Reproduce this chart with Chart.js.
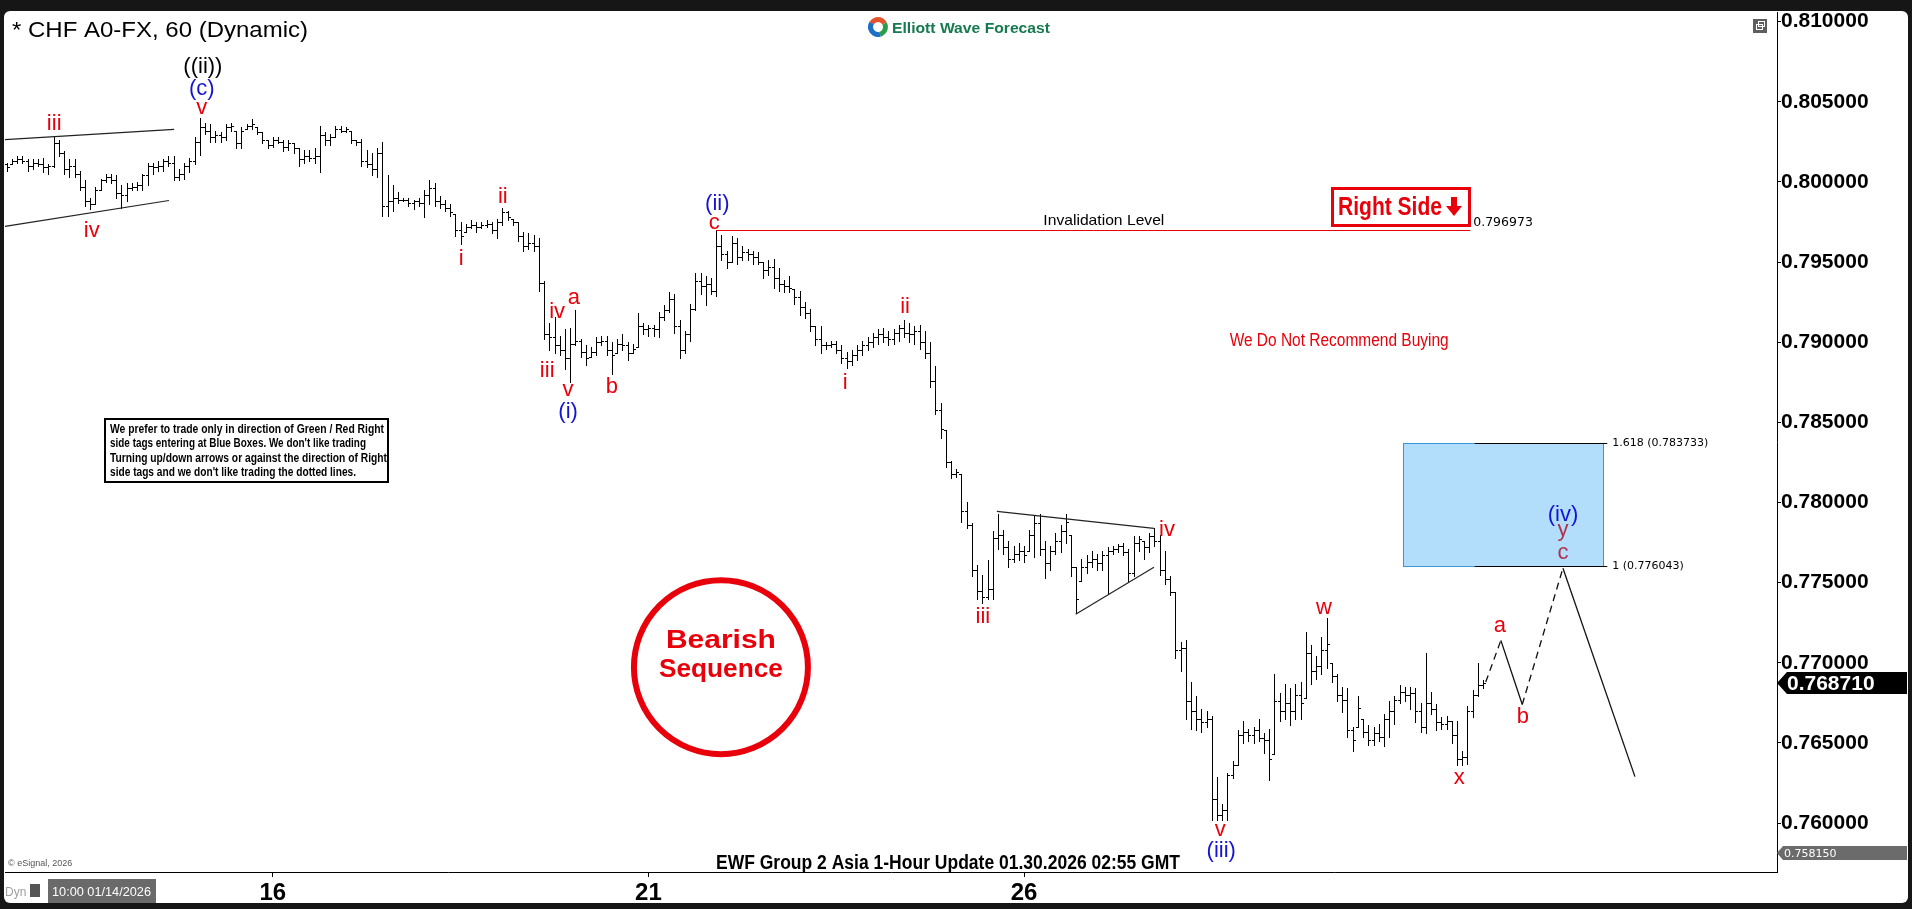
<!DOCTYPE html>
<html>
<head>
<meta charset="utf-8">
<title>CHF A0-FX 60</title>
<script src="https://cdn.jsdelivr.net/npm/chart.js@4.4.1/dist/chart.umd.min.js"></script>
<style>
  html, body { margin: 0; padding: 0; background: #161616; overflow: hidden; }
  canvas { display: block; }
</style>
</head>
<body>
<canvas id="chfChart" width="1912" height="909"></canvas>
<script>
// hourly bars, index 0 = first bar on screen (weekend hours are skipped)
var barOpen = [
  0.8011,0.8011,0.8013,0.8014,0.8013,0.8010,0.8012,0.8011,0.8009,0.8010,
  0.8024,0.8018,0.8008,0.8010,0.8005,0.7997,0.7988,0.7986,0.7995,0.8001,
  0.8003,0.8001,0.7993,0.7992,0.7996,0.7997,0.7998,0.8004,0.8010,0.8009,
  0.8010,0.8013,0.8012,0.8003,0.8005,0.8010,0.8013,0.8025,0.8034,0.8032,
  0.8028,0.8029,0.8028,0.8034,0.8032,0.8024,0.8033,0.8035,0.8034,0.8031,
  0.8026,0.8023,0.8026,0.8025,0.8022,0.8024,0.8021,0.8014,0.8016,0.8015,
  0.8016,0.8029,0.8026,0.8028,0.8033,0.8032,0.8032,0.8026,0.8025,0.8013,
  0.8011,0.8008,0.8018,0.7985,0.7988,0.7990,0.7989,0.7989,0.7987,0.7988,
  0.7987,0.7992,0.7996,0.7988,0.7986,0.7984,0.7980,0.7970,0.7969,0.7972,
  0.7973,0.7972,0.7973,0.7974,0.7970,0.7975,0.7981,0.7977,0.7975,0.7966,
  0.7960,0.7962,0.7960,0.7937,0.7905,0.7903,0.7898,0.7895,0.7890,0.7899,
  0.7901,0.7894,0.7891,0.7894,0.7900,0.7901,0.7895,0.7893,0.7899,0.7898,
  0.7893,0.7897,0.7910,0.7908,0.7909,0.7908,0.7916,0.7920,0.7927,0.7910,
  0.7895,0.7905,0.7921,0.7938,0.7935,0.7936,0.7932,0.7960,0.7955,0.7950,
  0.7962,0.7953,0.7956,0.7955,0.7953,0.7950,0.7945,0.7947,0.7940,0.7936,
  0.7935,0.7933,0.7928,0.7922,0.7918,0.7910,0.7902,0.7898,0.7898,0.7899,
  0.7895,0.7890,0.7888,0.7892,0.7895,0.7898,0.7900,0.7903,0.7905,0.7903,
  0.7902,0.7906,0.7909,0.7906,0.7905,0.7907,0.7900,0.7893,0.7876,0.7858,
  0.7845,0.7825,0.7818,0.7818,0.7795,0.7786,0.7758,0.7745,0.7741,0.7746,
  0.7778,0.7780,0.7772,0.7765,0.7768,0.7770,0.7770,0.7780,0.7787,0.7771,
  0.7762,0.7770,0.7776,0.7782,0.7780,0.7760,0.7751,0.7760,0.7763,0.7765,
  0.7762,0.7767,0.7770,0.7771,0.7773,0.7769,0.7756,0.7775,0.7776,0.7772,
  0.7779,0.7776,0.7758,0.7752,0.7744,0.7708,0.7709,0.7676,0.7670,0.7665,
  0.7663,0.7665,0.7615,0.7605,0.7608,0.7630,0.7636,0.7655,0.7657,0.7655,
  0.7658,0.7653,0.7652,0.7643,0.7676,0.7670,0.7675,0.7670,0.7680,0.7678,
  0.7706,0.7695,0.7698,0.7708,0.7700,0.7692,0.7680,0.7677,0.7658,0.7660,
  0.7665,0.7657,0.7652,0.7656,0.7654,0.7665,0.7670,0.7677,0.7682,0.7680,
  0.7681,0.7670,0.7660,0.7675,0.7671,0.7663,0.7662,0.7664,0.7655,0.7640,
  0.7641,0.7670,0.7680,0.7686
];
var barHigh = [
  0.8012,0.8014,0.8016,0.8016,0.8014,0.8014,0.8014,0.8015,0.8011,0.8028,
  0.8026,0.8019,0.8014,0.8014,0.8007,0.8001,0.7990,0.7997,0.8002,0.8005,
  0.8005,0.8004,0.7998,0.7999,0.7999,0.8000,0.8005,0.8012,0.8012,0.8013,
  0.8014,0.8016,0.8016,0.8008,0.8012,0.8015,0.8028,0.8040,0.8037,0.8036,
  0.8032,0.8031,0.8036,0.8037,0.8032,0.8034,0.8036,0.8039,0.8034,0.8031,
  0.8026,0.8028,0.8028,0.8026,0.8026,0.8024,0.8021,0.8020,0.8020,0.8021,
  0.8035,0.8031,0.8030,0.8035,0.8035,0.8034,0.8032,0.8026,0.8027,0.8020,
  0.8018,0.8021,0.8025,0.8004,0.7998,0.7994,0.7990,0.7990,0.7989,0.7990,
  0.7995,0.8001,0.7999,0.7991,0.7989,0.7986,0.7980,0.7975,0.7974,0.7976,
  0.7975,0.7975,0.7976,0.7975,0.7977,0.7984,0.7982,0.7977,0.7975,0.7969,
  0.7968,0.7967,0.7965,0.7938,0.7912,0.7916,0.7904,0.7908,0.7909,0.7920,
  0.7902,0.7898,0.7897,0.7903,0.7904,0.7904,0.7900,0.7902,0.7905,0.7900,
  0.7899,0.7918,0.7912,0.7911,0.7911,0.7919,0.7923,0.7931,0.7930,0.7914,
  0.7907,0.7924,0.7943,0.7943,0.7941,0.7940,0.79697,0.7967,0.7957,0.7966,
  0.7965,0.7960,0.7958,0.7957,0.7956,0.7950,0.7951,0.7952,0.7946,0.7939,
  0.7941,0.7933,0.7932,0.7925,0.7921,0.7910,0.7910,0.7900,0.7901,0.7901,
  0.7898,0.7894,0.7895,0.7898,0.7901,0.7903,0.7906,0.7908,0.7909,0.7907,
  0.7908,0.7911,0.7914,0.7912,0.7910,0.7911,0.7907,0.7900,0.7885,0.7862,
  0.7845,0.7826,0.7821,0.7818,0.7800,0.7787,0.7761,0.7755,0.7764,0.7782,
  0.7793,0.7783,0.7776,0.7773,0.7775,0.7773,0.7783,0.7792,0.7793,0.7776,
  0.7773,0.7781,0.7786,0.7793,0.7780,0.7760,0.7765,0.7767,0.7770,0.7768,
  0.7770,0.7772,0.7773,0.7774,0.7775,0.7771,0.7779,0.7779,0.7776,0.7781,
  0.7784,0.7780,0.7770,0.7754,0.7744,0.7713,0.7714,0.7688,0.7679,0.7671,
  0.7670,0.7667,0.7629,0.7612,0.7631,0.7639,0.7658,0.7664,0.7659,0.7660,
  0.7665,0.7656,0.7659,0.7693,0.7681,0.7687,0.7684,0.7687,0.7688,0.7719,
  0.7711,0.7704,0.7716,0.7728,0.7700,0.7693,0.7685,0.7684,0.7660,0.7679,
  0.7665,0.7661,0.7660,0.7662,0.7668,0.7676,0.7679,0.7686,0.7685,0.7685,
  0.7684,0.7675,0.7706,0.7682,0.7674,0.7666,0.7667,0.7664,0.7664,0.7645,
  0.7673,0.7683,0.7700,0.7689
];
var barLow = [
  0.8007,0.8011,0.8012,0.8012,0.8007,0.8008,0.8010,0.8006,0.8005,0.8009,
  0.8016,0.8005,0.8003,0.8003,0.7995,0.7985,0.7983,0.7986,0.7995,0.8000,
  0.7999,0.7990,0.7984,0.7988,0.7995,0.7995,0.7995,0.7998,0.8005,0.8007,
  0.8007,0.8010,0.8001,0.8001,0.8002,0.8006,0.8011,0.8017,0.8030,0.8025,
  0.8025,0.8025,0.8026,0.8032,0.8021,0.8021,0.8033,0.8033,0.8030,0.8024,
  0.8021,0.8022,0.8024,0.8019,0.8020,0.8018,0.8010,0.8012,0.8013,0.8012,
  0.8006,0.8023,0.8023,0.8028,0.8031,0.8031,0.8024,0.8023,0.8010,0.8009,
  0.8004,0.8003,0.7979,0.7979,0.7982,0.7987,0.7988,0.7985,0.7983,0.7985,
  0.7978,0.7986,0.7985,0.7984,0.7982,0.7979,0.7966,0.7961,0.7969,0.7971,
  0.7969,0.7971,0.7972,0.7968,0.7965,0.7973,0.7976,0.7973,0.7963,0.7957,
  0.7958,0.7957,0.7932,0.7902,0.7895,0.7893,0.7892,0.7883,0.7875,0.7898,
  0.7891,0.7886,0.7891,0.7892,0.7898,0.7892,0.7880,0.7893,0.7895,0.7889,
  0.7893,0.7897,0.7905,0.7904,0.7904,0.7903,0.7914,0.7919,0.7906,0.7890,
  0.7893,0.7901,0.7920,0.7930,0.7923,0.7930,0.7929,0.7951,0.7946,0.7950,
  0.7949,0.7951,0.7951,0.7949,0.7949,0.7940,0.7942,0.7934,0.7932,0.7931,
  0.7931,0.7924,0.7917,0.7915,0.7907,0.7898,0.7893,0.7896,0.7897,0.7893,
  0.7887,0.7884,0.7886,0.7889,0.7892,0.7895,0.7897,0.7899,0.7900,0.7898,
  0.7899,0.7901,0.7903,0.7900,0.7899,0.7896,0.7890,0.7872,0.7855,0.7840,
  0.7822,0.7815,0.7816,0.7788,0.7784,0.7754,0.7740,0.7737,0.7740,0.7740,
  0.7771,0.7768,0.7760,0.7763,0.7764,0.7763,0.7770,0.7766,0.7767,0.7753,
  0.7758,0.7768,0.7769,0.7775,0.7754,0.7731,0.7751,0.7756,0.7760,0.7758,
  0.7758,0.7743,0.7768,0.7769,0.7767,0.7751,0.7754,0.7770,0.7765,0.7769,
  0.7773,0.7755,0.7749,0.7742,0.7703,0.7695,0.7665,0.7659,0.7658,0.7657,
  0.7660,0.7602,0.7602,0.7602,0.7602,0.7628,0.7636,0.7650,0.7651,0.7650,
  0.7651,0.7644,0.7627,0.7643,0.7664,0.7665,0.7661,0.7665,0.7665,0.7678,
  0.7687,0.7690,0.7693,0.7697,0.7688,0.7676,0.7669,0.7654,0.7645,0.7660,
  0.7654,0.7649,0.7649,0.7651,0.7648,0.7654,0.7662,0.7675,0.7676,0.7671,
  0.7663,0.7657,0.7656,0.7668,0.7658,0.7659,0.7659,0.7650,0.7636,0.7636,
  0.7637,0.7666,0.7679,0.7684
];
var barClose = [
  0.8009,0.8013,0.8014,0.8013,0.8010,0.8012,0.8011,0.8009,0.8010,0.8024,
  0.8018,0.8008,0.8010,0.8005,0.7997,0.7988,0.7986,0.7995,0.8001,0.8003,
  0.8001,0.7993,0.7992,0.7996,0.7997,0.7998,0.8004,0.8010,0.8009,0.8010,
  0.8013,0.8012,0.8003,0.8005,0.8010,0.8013,0.8025,0.8034,0.8032,0.8028,
  0.8029,0.8028,0.8034,0.8035,0.8024,0.8032,0.8035,0.8036,0.8031,0.8026,
  0.8023,0.8026,0.8025,0.8022,0.8024,0.8021,0.8014,0.8016,0.8015,0.8016,
  0.8029,0.8026,0.8028,0.8033,0.8032,0.8033,0.8026,0.8025,0.8013,0.8011,
  0.8008,0.8018,0.7985,0.7988,0.7990,0.7989,0.7989,0.7987,0.7988,0.7987,
  0.7992,0.7996,0.7988,0.7986,0.7984,0.7981,0.7970,0.7966,0.7972,0.7973,
  0.7972,0.7973,0.7974,0.7970,0.7975,0.7981,0.7978,0.7975,0.7966,0.7960,
  0.7962,0.7960,0.7937,0.7905,0.7903,0.7898,0.7895,0.7890,0.7899,0.7901,
  0.7894,0.7890,0.7894,0.7900,0.7901,0.7895,0.7892,0.7899,0.7898,0.7893,
  0.7896,0.7910,0.7908,0.7909,0.7908,0.7916,0.7920,0.7927,0.7910,0.7895,
  0.7905,0.7921,0.7938,0.7935,0.7936,0.7932,0.7960,0.7955,0.7950,0.7962,
  0.7953,0.7956,0.7955,0.7953,0.7950,0.7945,0.7947,0.7940,0.7936,0.7935,
  0.7934,0.7928,0.7922,0.7918,0.7910,0.7902,0.7898,0.7898,0.7899,0.7895,
  0.7890,0.7888,0.7892,0.7895,0.7898,0.7900,0.7903,0.7905,0.7903,0.7902,
  0.7906,0.7909,0.7906,0.7905,0.7907,0.7900,0.7893,0.7876,0.7858,0.7846,
  0.7825,0.7818,0.7819,0.7795,0.7786,0.7758,0.7745,0.7741,0.7746,0.7778,
  0.7780,0.7772,0.7765,0.7768,0.7770,0.7767,0.7780,0.7787,0.7771,0.7762,
  0.7770,0.7776,0.7782,0.7788,0.7760,0.7740,0.7760,0.7763,0.7765,0.7762,
  0.7767,0.7770,0.7771,0.7773,0.7769,0.7756,0.7775,0.7777,0.7772,0.7779,
  0.7776,0.7758,0.7752,0.7744,0.7708,0.7709,0.7676,0.7670,0.7665,0.7663,
  0.7665,0.7615,0.7605,0.7608,0.7630,0.7636,0.7655,0.7657,0.7655,0.7658,
  0.7653,0.7652,0.7640,0.7676,0.7670,0.7675,0.7670,0.7680,0.7675,0.7706,
  0.7695,0.7698,0.7708,0.7712,0.7692,0.7680,0.7677,0.7658,0.7652,0.7672,
  0.7657,0.7652,0.7656,0.7654,0.7665,0.7670,0.7677,0.7682,0.7680,0.7681,
  0.7670,0.7660,0.7675,0.7671,0.7663,0.7662,0.7664,0.7655,0.7640,0.7641,
  0.7670,0.7680,0.7686,0.76871
];

// axis ticks
var dayTicks = [51, 123, 195];
var dayLabels = ["16", "21", "26"];
var priceTicks = [0.76, 0.765, 0.77, 0.775, 0.78, 0.785, 0.79, 0.795, 0.80, 0.805, 0.81];

// levels
var lastPrice = 0.76871;
var lowMarker = 0.75815;
var invalidation = 0.796973;
var fibLevels = [0.783733, 0.776043];
var fibNames = ["1.618", "1"];

// projected path  (bar index, price)
var projK = [283.5, 286.4, 290.5, 298.3, 312.1];
var projP = [0.7688, 0.7714, 0.7674, 0.7759, 0.7629];

var xMin = -0.33, xMax = 339.33;
var yMin = 0.75695, yMax = 0.81056;
var PLOT_BOTTOM = 872;

var SANS = '"Liberation Sans", Arial, sans-serif';
var NARROW = '"Liberation Sans Narrow", "Arial Narrow", "Liberation Sans", sans-serif';
var DEJA = '"DejaVu Sans", Verdana, sans-serif';
var RED = "#e8000b";
var BLUE = "#1414d2";
var MAROON = "#b0304f";

// wave counts: text, bar index, price, colour
var waveLabels = [
  ["((ii))", 37.6, 0.80719, "#000"],
  ["(c)", 37.4, 0.80582, BLUE],
  ["v", 37.4, 0.80464, RED],
  ["iii", 9.1, 0.80364, RED],
  ["iv", 16.3, 0.79697, RED],
  ["i", 87.1, 0.79522, RED],
  ["ii", 95.1, 0.79903, RED],
  ["iv", 105.5, 0.79186, RED],
  ["a", 108.7, 0.79279, RED],
  ["iii", 103.6, 0.78818, RED],
  ["v", 107.6, 0.78700, RED],
  ["(i)", 107.6, 0.78562, BLUE],
  ["b", 116.0, 0.78718, RED],
  ["(ii)", 136.2, 0.79865, BLUE],
  ["c", 135.6, 0.79747, RED],
  ["i", 160.7, 0.78743, RED],
  ["ii", 172.2, 0.79223, RED],
  ["iii", 187.1, 0.77284, RED],
  ["iv", 222.4, 0.77827, RED],
  ["v", 232.6, 0.75956, RED],
  ["(iii)", 232.8, 0.75825, BLUE],
  ["w", 252.5, 0.77340, RED],
  ["x", 278.4, 0.76280, RED],
  ["a", 286.2, 0.77228, RED],
  ["b", 290.6, 0.76661, RED],
  ["(iv)", 298.3, 0.77920, BLUE],
  ["y", 298.3, 0.77827, MAROON],
  ["c", 298.3, 0.77683, MAROON]
];

// channel / triangle lines: [[k, p], [k, p]]
var trendLines = [
  [[-0.33, 0.80264], [32.1, 0.80327]],
  [[-0.33, 0.79722], [31.1, 0.79884]],
  [[189.8, 0.77945], [219.9, 0.77839]],
  [[204.9, 0.77303], [219.9, 0.77596]]
];

var noteLines = [
  "We prefer to trade only in direction of Green / Red Right",
  "side tags entering at Blue Boxes. We don't like trading",
  "Turning up/down arrows or against the direction of Right",
  "side tags and we don't like trading the dotted lines."
];

function fitText(ctx, txt, x, y, w, align) {
  var m = ctx.measureText(txt).width;
  var left = align === "center" ? x - w / 2 : x;
  ctx.save();
  ctx.translate(left, y);
  ctx.scale(w / m, 1);
  ctx.textAlign = "left";
  ctx.fillText(txt, 0, 0);
  ctx.restore();
}

var frame = {
  id: "frame",
  beforeDraw: function (c) {
    var ctx = c.ctx;
    ctx.save();
    ctx.fillStyle = "#161616";
    ctx.fillRect(0, 0, c.width, c.height);
    ctx.fillStyle = "#fff";
    ctx.beginPath();
    ctx.roundRect(4, 11, 1904, 892, 6);
    ctx.fill();
    ctx.restore();
  }
};

// crisp OHLC bars on top of the bar elements the library lays out
var ohlc = {
  id: "ohlc",
  beforeDatasetDraw: function (c, args) {
    if (args.index !== 0) return;
    var ctx = c.ctx, ys = c.scales.y;
    var els = args.meta.data;
    ctx.save();
    ctx.strokeStyle = "#000";
    ctx.lineWidth = 1;
    ctx.beginPath();
    for (var i = 0; i < els.length; i++) {
      var x = Math.round(els[i].x) + 0.5;
      var yh = Math.round(ys.getPixelForValue(barHigh[i]));
      var yl = Math.round(ys.getPixelForValue(barLow[i]));
      var yo = Math.round(ys.getPixelForValue(barOpen[i])) + 0.5;
      var yc = Math.round(ys.getPixelForValue(barClose[i])) + 0.5;
      ctx.moveTo(x, yh);
      ctx.lineTo(x, yl + 1);
      ctx.moveTo(x - 2.5, yo);
      ctx.lineTo(x, yo);
      ctx.moveTo(x, yc);
      ctx.lineTo(x + 2.5, yc);
    }
    ctx.stroke();
    ctx.restore();
    return false;
  }
};

var notes = {
  id: "notes",
  afterDatasetsDraw: function (c) {
    var ctx = c.ctx;
    var X = function (k) { return c.scales.x.getPixelForValue(k); };
    var Y = function (p) { return c.scales.y.getPixelForValue(p); };
    ctx.save();

    // target box
    var bx0 = Math.round(X(267.6)), bx1 = Math.round(X(306.0));
    var by0 = Math.round(Y(fibLevels[0])), by1 = Math.round(Y(fibLevels[1]));
    ctx.fillStyle = "#b3defb";
    ctx.fillRect(bx0, by0, bx1 - bx0, by1 - by0);
    ctx.strokeStyle = "#3b95db";
    ctx.lineWidth = 1;
    ctx.strokeRect(bx0 + 0.5, by0 + 0.5, bx1 - bx0, by1 - by0);

    ctx.strokeStyle = "#000";
    ctx.fillStyle = "#000";
    ctx.font = "11px " + DEJA;
    ctx.textAlign = "left";
    ctx.textBaseline = "middle";
    fibLevels.forEach(function (lv, i) {
      var y = Math.round(Y(lv)) + 0.5;
      ctx.beginPath();
      ctx.moveTo(X(281.4), y);
      ctx.lineTo(X(306.8), y);
      ctx.stroke();
      ctx.fillText(fibNames[i] + " (" + lv.toFixed(6) + ")", X(306.8) + 5, y);
    });

    // projected path
    ctx.strokeStyle = "#111";
    ctx.lineWidth = 1.3;
    for (var s = 0; s < projK.length - 1; s++) {
      ctx.setLineDash(s % 2 === 0 ? [7, 5] : []);
      ctx.beginPath();
      ctx.moveTo(X(projK[s]), Y(projP[s]));
      ctx.lineTo(X(projK[s + 1]), Y(projP[s + 1]));
      ctx.stroke();
    }
    ctx.setLineDash([]);

    // invalidation level
    var yi = Math.round(Y(invalidation)) + 0.5;
    ctx.strokeStyle = RED;
    ctx.lineWidth = 1;
    ctx.beginPath();
    ctx.moveTo(X(136), yi);
    ctx.lineTo(X(280.5), yi);
    ctx.stroke();
    ctx.fillStyle = "#000";
    ctx.textBaseline = "alphabetic";
    ctx.font = "15px " + SANS;
    fitText(ctx, "Invalidation Level", X(210.3), yi - 6, 121, "center");
    ctx.font = "12.5px " + DEJA;
    ctx.textBaseline = "middle";
    ctx.fillText(invalidation.toFixed(6), X(281.1), yi - 8);

    // trend lines
    ctx.strokeStyle = "#222";
    ctx.lineWidth = 1.2;
    trendLines.forEach(function (l) {
      ctx.beginPath();
      ctx.moveTo(X(l[0][0]), Y(l[0][1]));
      ctx.lineTo(X(l[1][0]), Y(l[1][1]));
      ctx.stroke();
    });

    // wave labels
    ctx.font = "22px " + SANS;
    ctx.textAlign = "center";
    ctx.textBaseline = "middle";
    waveLabels.forEach(function (w) {
      ctx.fillStyle = w[3];
      ctx.fillText(w[0], X(w[1]), Y(w[2]));
    });

    // Right Side tag
    var rx0 = Math.round(X(253.9)), rx1 = Math.round(X(280.7));
    var ry0 = Math.round(Y(0.79965)), ry1 = Math.round(Y(0.79716));
    ctx.fillStyle = "#fff";
    ctx.fillRect(rx0, ry0, rx1 - rx0, ry1 - ry0);
    ctx.strokeStyle = RED;
    ctx.lineWidth = 3;
    ctx.strokeRect(rx0 + 1.5, ry0 + 1.5, rx1 - rx0 - 3, ry1 - ry0 - 3);
    ctx.fillStyle = RED;
    ctx.font = "bold 25px " + NARROW;
    ctx.textBaseline = "alphabetic";
    fitText(ctx, "Right Side", rx0 + 7, ry1 - 12, 104, "left");
    var ax = rx1 - 17;
    ctx.fillRect(ax - 3, ry0 + 10, 6, 10);
    ctx.beginPath();
    ctx.moveTo(ax - 8, ry0 + 19);
    ctx.lineTo(ax + 8, ry0 + 19);
    ctx.lineTo(ax, ry0 + 29);
    ctx.closePath();
    ctx.fill();

    ctx.font = "18px " + NARROW;
    fitText(ctx, "We Do Not Recommend Buying", X(255.4), Y(0.79011) + 6, 219, "center");

    // Bearish Sequence badge
    var cx = X(136.9), cy = Y(0.76973);
    ctx.strokeStyle = RED;
    ctx.lineWidth = 6;
    ctx.beginPath();
    ctx.arc(cx, cy, 87, 0, Math.PI * 2);
    ctx.stroke();
    ctx.font = "bold 26px " + SANS;
    fitText(ctx, "Bearish", cx, Y(0.77147) + 9, 110, "center");
    fitText(ctx, "Sequence", cx, Y(0.76966) + 9, 124, "center");

    ctx.restore();
  },
  afterDraw: function (c) {
    var ctx = c.ctx;
    var Y = function (p) { return c.scales.y.getPixelForValue(p); };
    ctx.save();

    // title
    ctx.fillStyle = "#000";
    ctx.font = "22px " + SANS;
    ctx.textBaseline = "alphabetic";
    fitText(ctx, "* CHF A0-FX, 60 (Dynamic)", 12, 37, 296, "left");

    // logo
    var lx = 878, ly = 27;
    [["#e4532b", -2.6, -0.5], ["#2a9d4b", -0.5, 1.3], ["#1f6fc4", 1.3, 3.7]].forEach(function (a) {
      ctx.strokeStyle = a[0];
      ctx.lineWidth = 5;
      ctx.beginPath();
      ctx.arc(lx, ly, 7.5, a[1], a[2]);
      ctx.stroke();
    });
    ctx.fillStyle = "#177a4f";
    ctx.font = "bold 15px " + SANS;
    fitText(ctx, "Elliott Wave Forecast", 892, 33, 158, "left");

    // window icon
    ctx.fillStyle = "#5e5e5e";
    ctx.fillRect(1753, 19, 14, 14);
    ctx.strokeStyle = "#fff";
    ctx.lineWidth = 1;
    ctx.strokeRect(1756.5, 24.5, 6, 5);
    ctx.strokeRect(1758.5, 21.5, 6, 5);

    // note box
    ctx.fillStyle = "#fff";
    ctx.fillRect(104, 418, 285, 65);
    ctx.strokeStyle = "#000";
    ctx.lineWidth = 2;
    ctx.strokeRect(105, 419, 283, 63);
    ctx.fillStyle = "#000";
    ctx.font = "bold 13px " + NARROW;
    var widths = [274, 256, 277, 246];
    noteLines.forEach(function (t, i) {
      fitText(ctx, t, 110, 433 + i * 14.3, widths[i], "left");
    });

    // footer
    ctx.font = "bold 20px " + NARROW;
    fitText(ctx, "EWF Group 2 Asia 1-Hour Update 01.30.2026 02:55 GMT", 948, 869, 464, "center");
    ctx.fillStyle = "#555";
    ctx.font = "9px " + SANS;
    ctx.fillText("\u00a9 eSignal, 2026", 8, 866);
    ctx.fillStyle = "#a0a0a0";
    ctx.font = "12px " + NARROW;
    ctx.fillText("Dyn", 5, 896);
    ctx.fillStyle = "#555";
    ctx.fillRect(30, 884, 10, 13);
    ctx.fillStyle = "#6a6a6a";
    ctx.fillRect(48, 879, 108, 24);
    ctx.fillStyle = "#fff";
    ctx.font = "12.5px " + NARROW;
    fitText(ctx, "10:00 01/14/2026", 52, 896, 99, "left");

    // price flags on the axis
    var yl = Math.round(Y(lastPrice));
    ctx.fillStyle = "#000";
    ctx.beginPath();
    ctx.moveTo(1777, yl);
    ctx.lineTo(1787, yl - 11);
    ctx.lineTo(1907, yl - 11);
    ctx.lineTo(1907, yl + 11);
    ctx.lineTo(1787, yl + 11);
    ctx.closePath();
    ctx.fill();
    ctx.fillStyle = "#fff";
    ctx.font = "bold 21px " + SANS;
    ctx.textBaseline = "middle";
    ctx.textAlign = "left";
    ctx.fillText(lastPrice.toFixed(6), 1787, yl + 1);

    var yg = Math.round(Y(lowMarker));
    ctx.fillStyle = "#6b6b6b";
    ctx.beginPath();
    ctx.moveTo(1777, yg);
    ctx.lineTo(1783, yg - 7);
    ctx.lineTo(1907, yg - 7);
    ctx.lineTo(1907, yg + 7);
    ctx.lineTo(1783, yg + 7);
    ctx.closePath();
    ctx.fill();
    ctx.fillStyle = "#fff";
    ctx.font = "11px " + DEJA;
    ctx.fillText(lowMarker.toFixed(6), 1784, yg + 1);

    ctx.restore();
  }
};

var chfChart = new Chart(document.getElementById("chfChart").getContext("2d"), {
  type: "bar",
  data: {
    datasets: [{
      label: "CHF A0-FX",
      data: barHigh.map(function (h, i) { return { x: i, y: [barLow[i], h] }; }),
      backgroundColor: "#000",
      barThickness: 1,
      grouped: false
    }]
  },
  options: {
    responsive: false,
    animation: false,
    devicePixelRatio: 1,
    layout: { padding: { left: 5, top: 12, right: 0, bottom: 0 } },
    plugins: { legend: { display: false }, tooltip: { enabled: false } },
    scales: {
      x: {
        type: "linear",
        position: "bottom",
        min: xMin,
        max: xMax,
        offset: false,
        afterFit: function (s) { s.height = 909 - PLOT_BOTTOM; },
        afterBuildTicks: function (s) {
          s.ticks = dayTicks.map(function (v) { return { value: v }; });
        },
        ticks: {
          autoSkip: false,
          maxRotation: 0,
          padding: 2,
          color: "#000",
          font: { family: NARROW, size: 24, weight: "bold" },
          callback: function (v, i) { return dayLabels[i]; }
        },
        grid: { offset: false, drawOnChartArea: false, drawTicks: true, tickLength: 5, color: "#000" },
        border: { display: true, color: "#000", width: 1 }
      },
      y: {
        type: "linear",
        position: "right",
        min: yMin,
        max: yMax,
        afterFit: function (s) { s.width = 135; },
        afterBuildTicks: function (s) {
          s.ticks = priceTicks.map(function (v) { return { value: v }; });
        },
        ticks: {
          autoSkip: false,
          padding: 0,
          color: "#000",
          font: { family: SANS, size: 21, weight: "bold" },
          callback: function (v) { return Number(v).toFixed(6); }
        },
        grid: { drawOnChartArea: false, drawTicks: true, tickLength: 4, color: "#000" },
        border: { display: true, color: "#000", width: 1 }
      }
    }
  },
  plugins: [frame, ohlc, notes]
});
</script>
</body>
</html>
